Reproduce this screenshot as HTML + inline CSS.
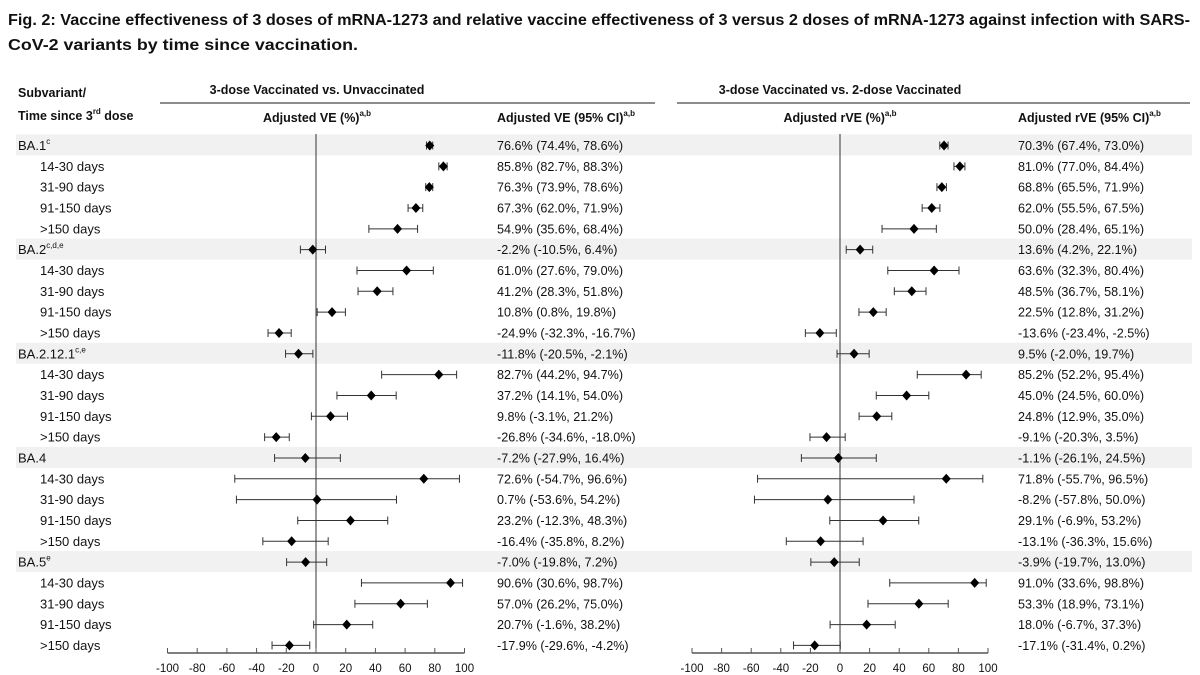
<!DOCTYPE html>
<html><head><meta charset="utf-8"><style>
body{margin:0;background:#fff;}
svg{display:block;font-family:"Liberation Sans",sans-serif;}
</style></head><body>
<svg id="c" width="1200" height="675" viewBox="0 0 1200 675">
<text x="8" y="25" font-size="16" font-weight="bold" fill="#111" textLength="1182" lengthAdjust="spacingAndGlyphs">Fig. 2: Vaccine effectiveness of 3 doses of mRNA-1273 and relative vaccine effectiveness of 3 versus 2 doses of mRNA-1273 against infection with SARS-</text>
<text x="8" y="50" font-size="16" font-weight="bold" fill="#111" textLength="350" lengthAdjust="spacingAndGlyphs">CoV-2 variants by time since vaccination.</text>
<g font-size="12.5" font-weight="bold" fill="#111">
<text x="18" y="97">Subvariant/</text>
<text x="18" y="120">Time since 3<tspan font-size="8" dy="-6">rd</tspan><tspan dy="6"> dose</tspan></text>
<text x="317" y="94" text-anchor="middle">3-dose Vaccinated vs. Unvaccinated</text>
<text x="840" y="94" text-anchor="middle">3-dose Vaccinated vs. 2-dose Vaccinated</text>
<text x="317" y="122" text-anchor="middle">Adjusted VE (%)<tspan font-size="8" dy="-6">a,b</tspan></text>
<text x="497" y="122">Adjusted VE (95% CI)<tspan font-size="8" dy="-6">a,b</tspan></text>
<text x="840" y="122" text-anchor="middle">Adjusted rVE (%)<tspan font-size="8" dy="-6">a,b</tspan></text>
<text x="1018" y="122">Adjusted rVE (95% CI)<tspan font-size="8" dy="-6">a,b</tspan></text>
</g>
<line x1="160" y1="103" x2="655" y2="103" stroke="#666" stroke-width="1.5"/>
<line x1="677" y1="103" x2="1190" y2="103" stroke="#666" stroke-width="1.5"/>
<g id="bands"></g><g id="rows"></g><g id="plots"></g>
</svg>
<script>
const labels=["BA.1","14-30 days","31-90 days","91-150 days",">150 days","BA.2","14-30 days","31-90 days","91-150 days",">150 days","BA.2.12.1","14-30 days","31-90 days","91-150 days",">150 days","BA.4","14-30 days","31-90 days","91-150 days",">150 days","BA.5","14-30 days","31-90 days","91-150 days",">150 days"];
const sups=["c","","","","","c,d,e","","","","","c,e","","","","","","","","","","e","","","",""];
const veEst=[76.6,85.8,76.3,67.3,54.9,-2.2,61.0,41.2,10.8,-24.9,-11.8,82.7,37.2,9.8,-26.8,-7.2,72.6,0.7,23.2,-16.4,-7.0,90.6,57.0,20.7,-17.9];
const veLo=[74.4,82.7,73.9,62.0,35.6,-10.5,27.6,28.3,0.8,-32.3,-20.5,44.2,14.1,-3.1,-34.6,-27.9,-54.7,-53.6,-12.3,-35.8,-19.8,30.6,26.2,-1.6,-29.6];
const veHi=[78.6,88.3,78.6,71.9,68.4,6.4,79.0,51.8,19.8,-16.7,-2.1,94.7,54.0,21.2,-18.0,16.4,96.6,54.2,48.3,8.2,7.2,98.7,75.0,38.2,-4.2];
const rveEst=[70.3,81.0,68.8,62.0,50.0,13.6,63.6,48.5,22.5,-13.6,9.5,85.2,45.0,24.8,-9.1,-1.1,71.8,-8.2,29.1,-13.1,-3.9,91.0,53.3,18.0,-17.1];
const rveLo=[67.4,77.0,65.5,55.5,28.4,4.2,32.3,36.7,12.8,-23.4,-2.0,52.2,24.5,12.9,-20.3,-26.1,-55.7,-57.8,-6.9,-36.3,-19.7,33.6,18.9,-6.7,-31.4];
const rveHi=[73.0,84.4,71.9,67.5,65.1,22.1,80.4,58.1,31.2,-2.5,19.7,95.4,60.0,35.0,3.5,24.5,96.5,50.0,53.2,15.6,13.0,98.8,73.1,37.3,0.2];
const ticks=[-100,-80,-60,-40,-20,0,20,40,60,80,100];

const NS="http://www.w3.org/2000/svg";
function mk(tag,attrs,parent){const e=document.createElementNS(NS,tag);for(const k in attrs)e.setAttribute(k,attrs[k]);parent.appendChild(e);return e;}
const rowY=i=>145.5+i*20.83;
const xL=v=>316+v*1.485, xR=v=>840+v*1.48;
const bands=document.getElementById('bands'),rows=document.getElementById('rows'),plots=document.getElementById('plots');
const f=v=>v.toFixed(1)+'%';
labels.forEach((lab,i)=>{
  const y=rowY(i),head=i%5===0;
  if(head){const b=mk('rect',{x:16,y:y-11,width:1176,height:21,fill:'#f1f1f1'},bands);
    
    }
  const t=mk('text',{x:head?18:40,y:y+4.5,'font-size':13,fill:'#111'},rows);
  
  
  t.textContent=lab;
  if(sups[i]){const s=mk('tspan',{'font-size':8,dy:-6},t);s.textContent=sups[i];}
  const a=mk('text',{x:497,y:y+4.5,'font-size':12.6,fill:'#111'},rows);
  
  
  a.textContent=`${f(veEst[i])} (${f(veLo[i])}, ${f(veHi[i])})`;
  const r=mk('text',{x:1018,y:y+4.5,'font-size':12.6,fill:'#111'},rows);
  
  
  r.textContent=`${f(rveEst[i])} (${f(rveLo[i])}, ${f(rveHi[i])})`;
});
function panel(X,est,lo,hi,name){
  const g=mk('g',{},plots);
  
  
  mk('line',{x1:X(0),y1:134,x2:X(0),y2:653,stroke:'#333','stroke-width':1},g);
  mk('line',{x1:X(-100),y1:653,x2:X(100),y2:653,stroke:'#555','stroke-width':1.5},g);
  ticks.forEach(t=>{
    mk('line',{x1:X(t),y1:648,x2:X(t),y2:653,stroke:'#555','stroke-width':1},g);
    const tx=mk('text',{x:X(t),y:672,'font-size':11.5,'text-anchor':'middle',fill:'#111'},g);
    
    
    tx.textContent=t;
  });
  est.forEach((v,i)=>{
    const y=rowY(i);
    const ci=mk('path',{d:`M${X(lo[i])},${y}H${X(hi[i])}M${X(lo[i])},${y-4}V${y+4}M${X(hi[i])},${y-4}V${y+4}`,stroke:'#333','stroke-width':1,fill:'none'},g);
    
    
    const cx=X(v);
    const d=mk('path',{d:`M${cx},${y-5}L${cx+4.5},${y}L${cx},${y+5}L${cx-4.5},${y}Z`,fill:'#000'},g);
    
    
  });
}
panel(xL,veEst,veLo,veHi,'ve-forest-panel');
panel(xR,rveEst,rveLo,rveHi,'rve-forest-panel');
</script>
</body></html>
